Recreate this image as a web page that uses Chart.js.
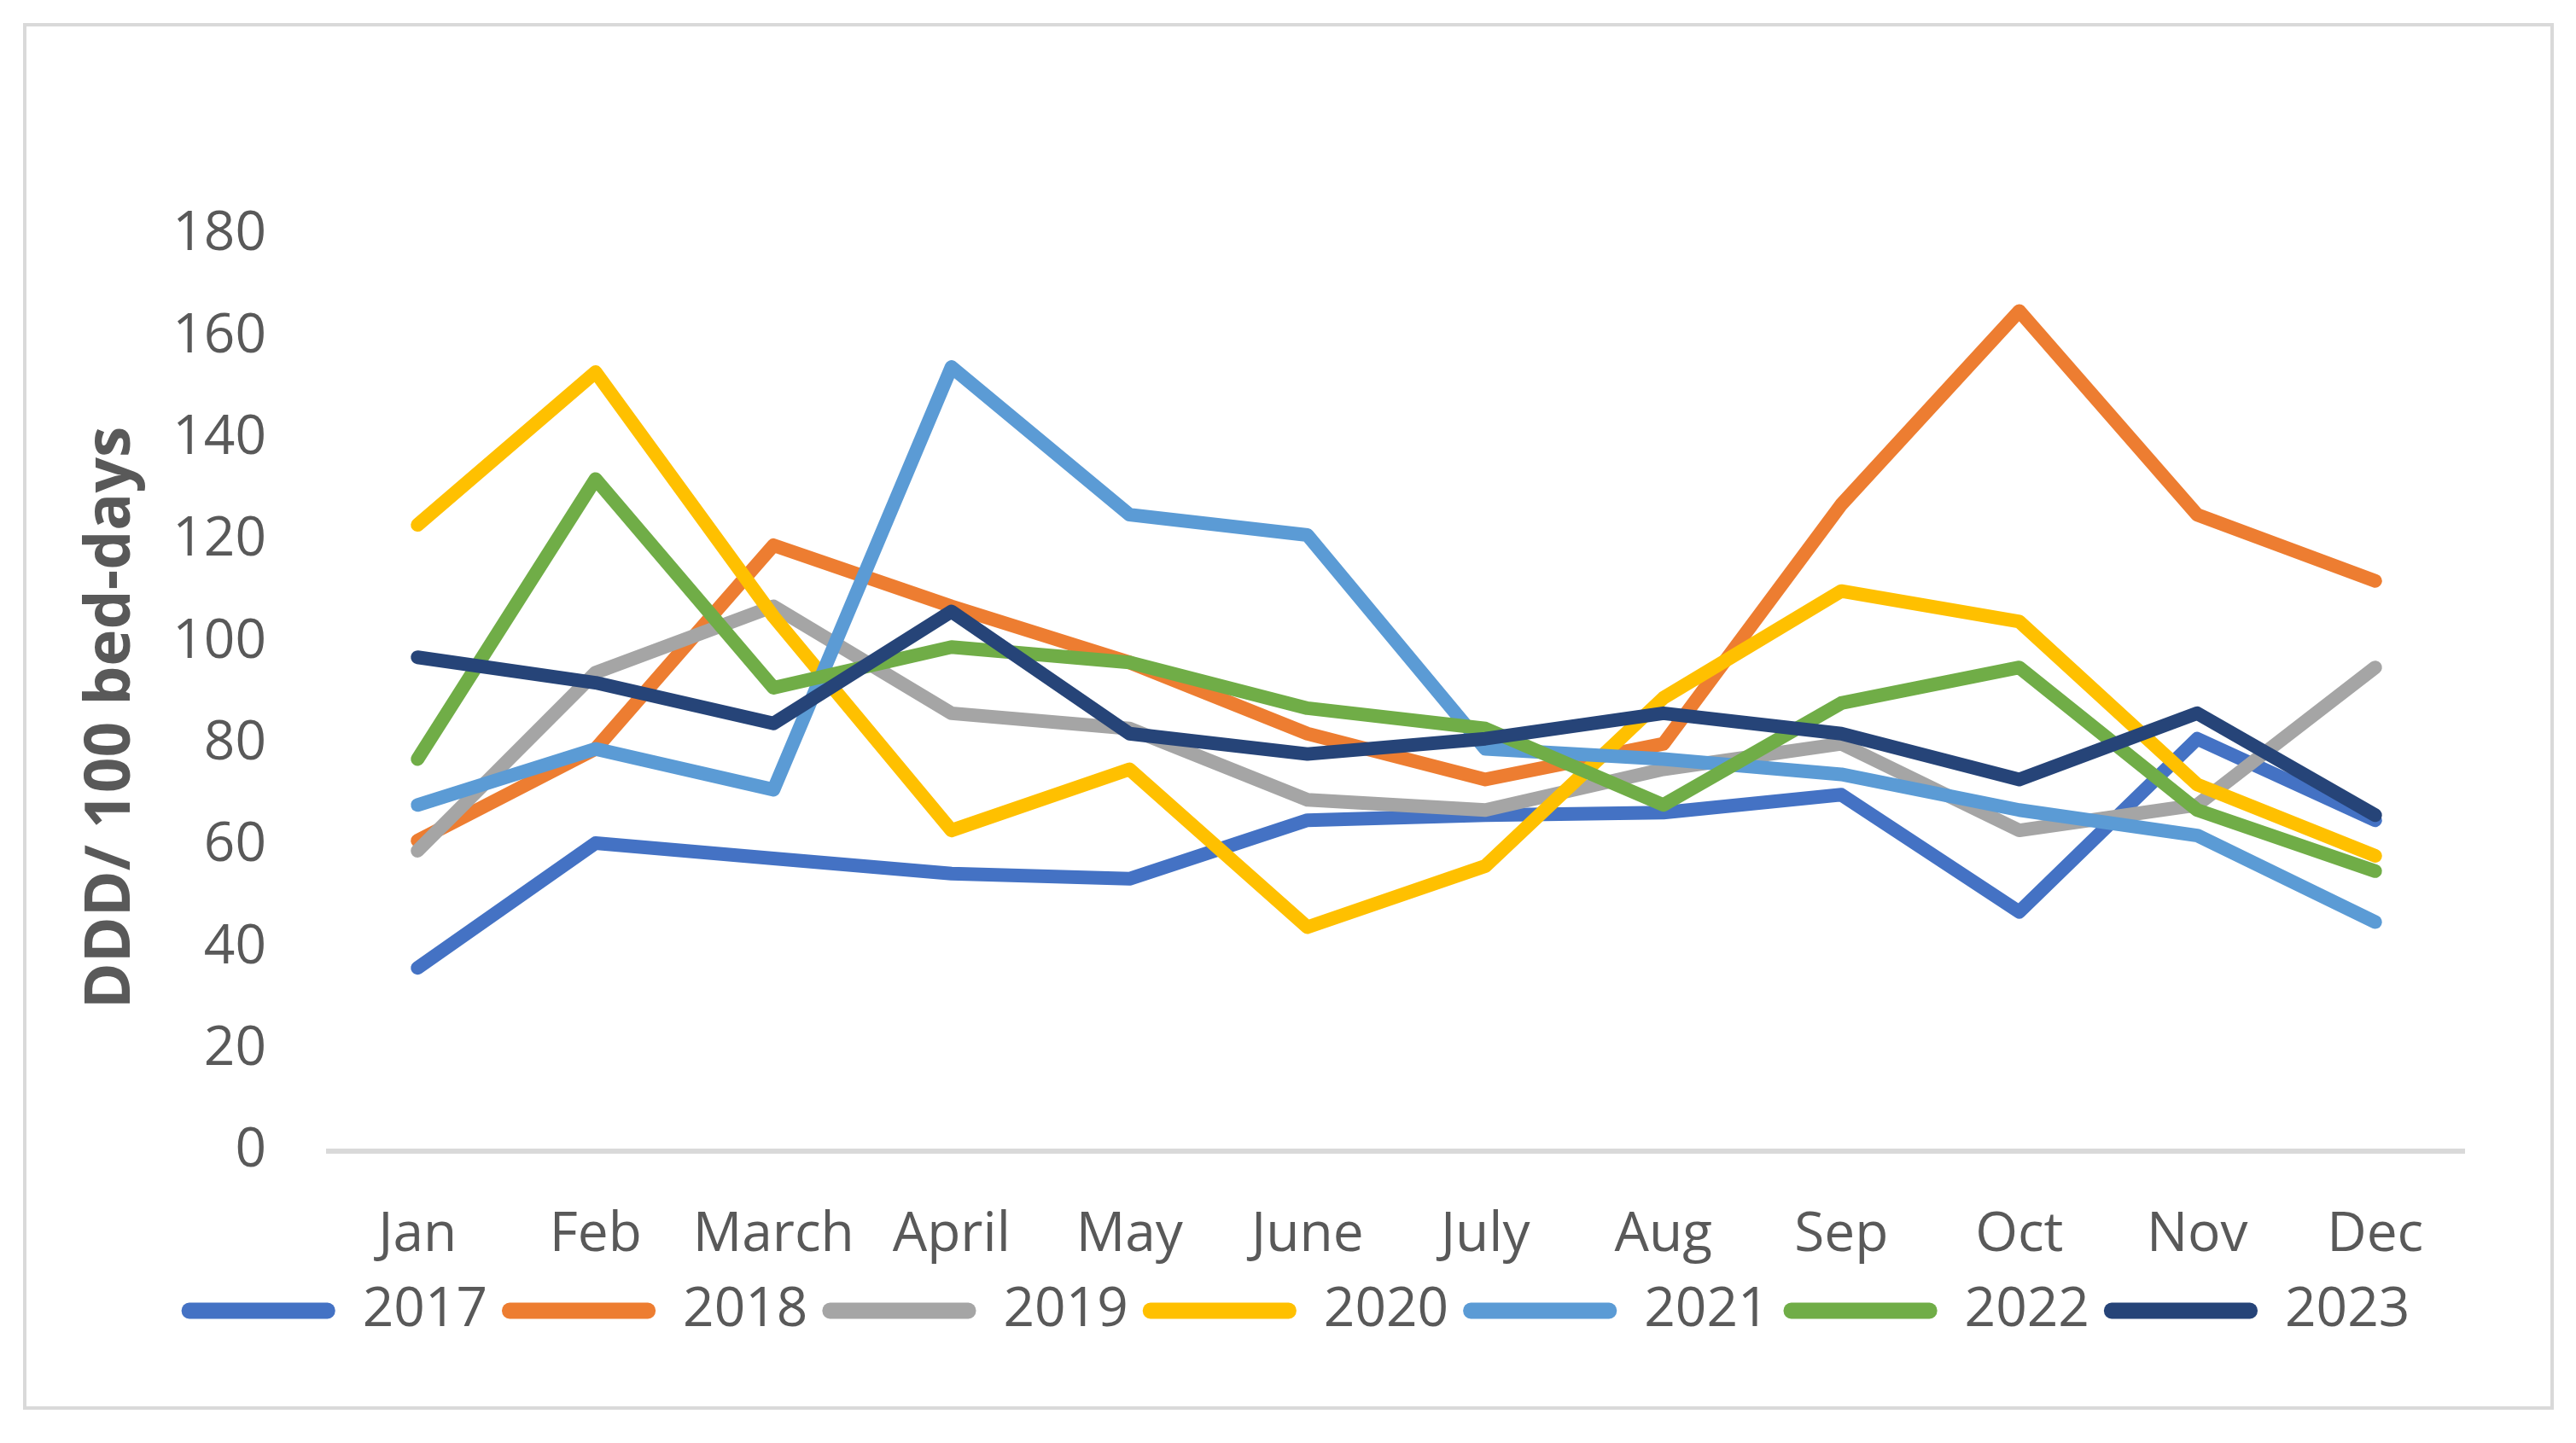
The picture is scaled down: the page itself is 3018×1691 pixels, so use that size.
<!DOCTYPE html>
<html>
<head>
<meta charset="utf-8">
<script src="https://cdn.jsdelivr.net/npm/chart.js@4/dist/chart.umd.min.js"></script>
<style>
html,body{margin:0;padding:0;background:#fff;overflow:hidden;}
canvas{display:block;}
</style>
</head>
<body>
<canvas id="c" width="3018" height="1691" style="width:3018px;height:1691px"></canvas>
<script>
const months = ['Jan','Feb','March','April','May','June','July','Aug','Sep','Oct','Nov','Dec'];
const seriesNames = ['2017','2018','2019','2020','2021','2022','2023'];
const y2017 = [36,60.5,57.5,54.5,53.5,65,66,66.5,70,47,81,65];
const y2018 = [61,79,119,107,96,82,73,80,127,165,125,112];
const y2019 = [59,94,107,86,83,69,67,75,80,63,68,95];
const y2020 = [123,153,105,63,75,44,56,89,110,104,72,58];
const y2021 = [68,79,71,154,125,121,79,77,74,67,62,45];
const y2022 = [77,132,91,99,96,87,83,68,88,95,67,55];
const y2023 = [97,92,84,106,82,78,81,86,82,73,86,66];
const yTicksMax = 180;
const yTicksStep = 20;
const yTitle = 'DDD/ 100 bed-days';

const colors = ['#4472C4','#ED7D31','#A5A5A5','#FFC000','#5B9BD5','#70AD47','#264478'];
const allSeries = [y2017,y2018,y2019,y2020,y2021,y2022,y2023];
const textColor = '#595959';
const fam = '"Open Sans", "Noto Sans", sans-serif';

const datasets = allSeries.map((d,i)=>({
  label: seriesNames[i],
  data: d,
  borderColor: colors[i],
  backgroundColor: colors[i],
  borderWidth: 16,
  borderCapStyle: 'round',
  borderJoinStyle: 'round',
  pointRadius: 0,
  pointHoverRadius: 0,
  tension: 0,
  fill: false,
  order: allSeries.length - i
}));

const framePlugin = {
  id: 'frame',
  beforeDraw(chart){
    const ctx = chart.ctx;
    ctx.save();
    ctx.fillStyle = '#fff';
    ctx.fillRect(0,0,chart.width,chart.height);
    ctx.strokeStyle = '#D9D9D9';
    ctx.lineWidth = 4;
    ctx.strokeRect(29,29,2961,1621);
    ctx.restore();
  },
  afterDraw(chart){
    const ctx = chart.ctx;
    ctx.save();
    ctx.translate(131, 841);
    ctx.rotate(-Math.PI/2);
    ctx.fillStyle = textColor;
    ctx.font = 'bold 73px ' + fam;
    ctx.textAlign = 'center';
    ctx.textBaseline = 'middle';
    ctx.fillText(yTitle, 0, 0);
    ctx.restore();
  }
};

new Chart(document.getElementById('c'), {
  type: 'line',
  data: { labels: months, datasets },
  plugins: [framePlugin],
  options: {
    responsive: false,
    animation: false,
    devicePixelRatio: 1,
    layout: { padding: { left: 91, right: 73, top: 275, bottom: 113 } },
    plugins: {
      legend: {
        position: 'bottom',
        labels: {
          color: textColor,
          font: { family: fam, size: 64 },
          boxWidth: 180,
          boxHeight: 19,
          padding: 17,
          useBorderRadius: true,
          borderRadius: 9,
          sort: (a,b)=>a.datasetIndex-b.datasetIndex,
          generateLabels(chart){
            const items = Chart.defaults.plugins.legend.labels.generateLabels(chart);
            items.forEach(it=>{ it.fillStyle = it.strokeStyle; it.lineWidth = 0; it.borderRadius = 9; });
            return items;
          }
        }
      },
      tooltip: { enabled: false }
    },
    scales: {
      x: {
        offset: true,
        grid: { display: false, drawTicks: false },
        border: { display: true, color: '#D9D9D9', width: 6 },
        ticks: { color: textColor, font: { family: fam, size: 64 }, padding: 60, maxRotation: 0, autoSkip: false },
        afterFit(scale){ scale.height = 138; }
      },
      y: {
        min: 0,
        max: yTicksMax,
        grid: { display: false, drawTicks: false },
        border: { display: false },
        ticks: { stepSize: yTicksStep, color: textColor, font: { family: fam, size: 64 }, padding: 73 },
        title: { display: false, text: yTitle },
        afterFit(scale){ scale.width = 294; }
      },
      yRight: {
        position: 'right',
        min: 0,
        max: yTicksMax,
        grid: { display: false, drawTicks: false },
        border: { display: false },
        ticks: { display: false },
        afterFit(scale){ scale.width = 58; }
      }
    }
  }
});
</script>
</body>
</html>
